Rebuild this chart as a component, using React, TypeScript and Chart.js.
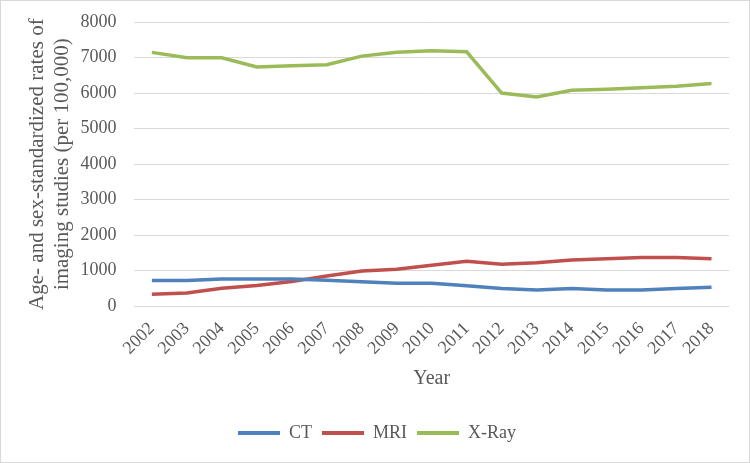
import React, { useEffect, useRef } from 'react';
import { Chart, registerables } from 'chart.js';
import type { ChartConfiguration } from 'chart.js';

Chart.register(...registerables);

// values (rates per 100,000)
const years = ['2002', '2003', '2004', '2005', '2006', '2007', '2008', '2009', '2010', '2011', '2012', '2013', '2014', '2015', '2016', '2017', '2018'];
const ctRates = [726, 726, 770, 770, 770, 730, 690, 650, 650, 580, 500, 455, 500, 460, 460, 500, 537];
const mriRates = [335, 376, 510, 585, 700, 850, 990, 1040, 1155, 1265, 1185, 1225, 1300, 1340, 1375, 1375, 1338];
const xrayRates = [7145, 6995, 6995, 6735, 6770, 6800, 7040, 7150, 7190, 7160, 6000, 5890, 6080, 6110, 6150, 6190, 6270];

const yTicks = [0, 1000, 2000, 3000, 4000, 5000, 6000, 7000, 8000];

const FONT = "'Liberation Serif', 'DejaVu Serif', serif";
const TEXT = '#595959';

const App: React.FC = () => {
  const canvasRef = useRef<HTMLCanvasElement | null>(null);

  useEffect(() => {
    document.body.style.margin = '0';
    const canvas = canvasRef.current;
    if (!canvas) return;

    const config: ChartConfiguration<'line', number[], string> = {
      type: 'line',
      data: {
        labels: years,
        datasets: [
          { label: 'CT', data: ctRates, borderColor: '#4F81BD', backgroundColor: '#4F81BD' },
          { label: 'MRI', data: mriRates, borderColor: '#C0504D', backgroundColor: '#C0504D' },
          { label: 'X-Ray', data: xrayRates, borderColor: '#9BBB59', backgroundColor: '#9BBB59' },
        ],
      },
      options: {
        animation: false,
        responsive: true,
        maintainAspectRatio: false,
        layout: { padding: { top: 0, right: 20, left: 24, bottom: 10 } },
        elements: {
          line: { borderWidth: 3.5, tension: 0 },
          point: { radius: 0 },
        },
        plugins: {
          tooltip: { enabled: false },
          legend: {
            position: 'bottom',
            labels: {
              color: TEXT,
              font: { family: FONT, size: 18 },
              boxWidth: 42,
              boxHeight: 4,
              padding: 10,
              generateLabels: (chart) =>
                chart.data.datasets.map((ds, i) => ({
                  text: ds.label as string,
                  fillStyle: ds.borderColor as string,
                  strokeStyle: ds.borderColor as string,
                  lineWidth: 0,
                  fontColor: TEXT,
                  datasetIndex: i,
                  hidden: false,
                })),
            },
          },
        },
        scales: {
          x: {
            offset: true,
            grid: { display: false },
            border: { display: false },
            ticks: {
              color: TEXT,
              font: { family: FONT, size: 18 },
              autoSkip: false,
              maxRotation: 45,
              minRotation: 45,
              padding: 4,
            },
            title: {
              display: true,
              text: 'Year',
              color: TEXT,
              font: { family: FONT, size: 20 },
              padding: { top: 4, bottom: 23 },
            },
          },
          y: {
            min: 0,
            max: 8000,
            afterBuildTicks: (axis) => {
              axis.ticks = yTicks.map((v) => ({ value: v }));
            },
            // tick padding is otherwise added above the top label too
            afterFit: (axis) => {
              axis.paddingTop = 21;
            },
            grid: { color: '#D9D9D9', lineWidth: 1, drawTicks: false },
            border: { display: false },
            ticks: {
              color: TEXT,
              font: { family: FONT, size: 18 },
              padding: 18,
              callback: (v) => String(v),
            },
            title: {
              display: true,
              text: ['Age- and sex-standardized rates of', 'imaging studies (per 100,000)'],
              color: TEXT,
              font: { family: FONT, size: 21, lineHeight: 1.2 },
              padding: { top: 0, bottom: -13 },
            },
          },
        },
      },
    };

    const chart = new Chart(canvas, config);
    return () => chart.destroy();
  }, []);

  return (
    <div
      style={{
        width: 750,
        height: 463,
        boxSizing: 'border-box',
        border: '1px solid #D9D9D9',
        background: '#fff',
      }}
    >
      <canvas ref={canvasRef} />
    </div>
  );
};

export default App;
